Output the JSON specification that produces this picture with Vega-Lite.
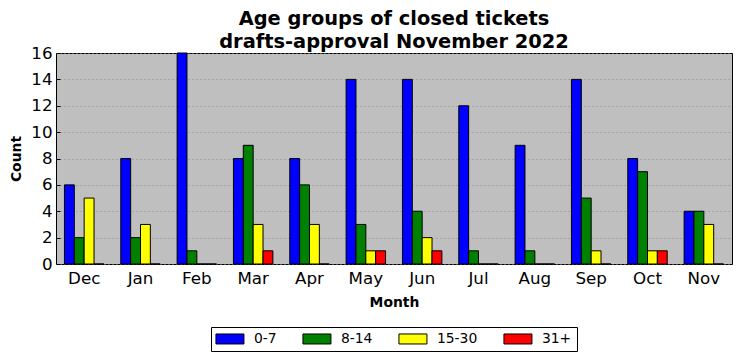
{
  "$schema": "https://vega.github.io/schema/vega-lite/v6.json",
  "width": 676,
  "height": 211,
  "autosize": {"type": "none"},
  "padding": {"left": 56, "top": 53, "right": 9, "bottom": 97},
  "background": "white",
  "config": {
    "font": "DejaVu Sans",
    "view": {"fill": "#bfbfbf", "stroke": "black", "strokeWidth": 1}
  },
  "title": {
    "text": ["Age groups of closed tickets", "drafts-approval November 2022"],
    "fontSize": 19.4,
    "fontWeight": "bold",
    "color": "black",
    "offset": -7,
    "lineHeight": 23,
    "anchor": "middle",
    "font": "DejaVu Sans"
  },
  "data": {
    "values": [
      {"month": "Dec", "group": "0-7", "count": 6}, {"month": "Dec", "group": "8-14", "count": 2}, {"month": "Dec", "group": "15-30", "count": 5}, {"month": "Dec", "group": "31+", "count": 0},
      {"month": "Jan", "group": "0-7", "count": 8}, {"month": "Jan", "group": "8-14", "count": 2}, {"month": "Jan", "group": "15-30", "count": 3}, {"month": "Jan", "group": "31+", "count": 0},
      {"month": "Feb", "group": "0-7", "count": 16}, {"month": "Feb", "group": "8-14", "count": 1}, {"month": "Feb", "group": "15-30", "count": 0}, {"month": "Feb", "group": "31+", "count": 0},
      {"month": "Mar", "group": "0-7", "count": 8}, {"month": "Mar", "group": "8-14", "count": 9}, {"month": "Mar", "group": "15-30", "count": 3}, {"month": "Mar", "group": "31+", "count": 1},
      {"month": "Apr", "group": "0-7", "count": 8}, {"month": "Apr", "group": "8-14", "count": 6}, {"month": "Apr", "group": "15-30", "count": 3}, {"month": "Apr", "group": "31+", "count": 0},
      {"month": "May", "group": "0-7", "count": 14}, {"month": "May", "group": "8-14", "count": 3}, {"month": "May", "group": "15-30", "count": 1}, {"month": "May", "group": "31+", "count": 1},
      {"month": "Jun", "group": "0-7", "count": 14}, {"month": "Jun", "group": "8-14", "count": 4}, {"month": "Jun", "group": "15-30", "count": 2}, {"month": "Jun", "group": "31+", "count": 1},
      {"month": "Jul", "group": "0-7", "count": 12}, {"month": "Jul", "group": "8-14", "count": 1}, {"month": "Jul", "group": "15-30", "count": 0}, {"month": "Jul", "group": "31+", "count": 0},
      {"month": "Aug", "group": "0-7", "count": 9}, {"month": "Aug", "group": "8-14", "count": 1}, {"month": "Aug", "group": "15-30", "count": 0}, {"month": "Aug", "group": "31+", "count": 0},
      {"month": "Sep", "group": "0-7", "count": 14}, {"month": "Sep", "group": "8-14", "count": 5}, {"month": "Sep", "group": "15-30", "count": 1}, {"month": "Sep", "group": "31+", "count": 0},
      {"month": "Oct", "group": "0-7", "count": 8}, {"month": "Oct", "group": "8-14", "count": 7}, {"month": "Oct", "group": "15-30", "count": 1}, {"month": "Oct", "group": "31+", "count": 1},
      {"month": "Nov", "group": "0-7", "count": 4}, {"month": "Nov", "group": "8-14", "count": 4}, {"month": "Nov", "group": "15-30", "count": 3}, {"month": "Nov", "group": "31+", "count": 0}
    ]
  },
  "mark": {"type": "bar", "stroke": "black", "strokeWidth": 1},
  "encoding": {
    "x": {
      "field": "month",
      "type": "nominal",
      "sort": ["Dec", "Jan", "Feb", "Mar", "Apr", "May", "Jun", "Jul", "Aug", "Sep", "Oct", "Nov"],
      "scale": {"paddingInner": 0.3, "paddingOuter": 0.15},
      "axis": {
        "title": "Month",
        "titleFontSize": 13.9,
        "titleFontWeight": "bold",
        "titleColor": "black",
        "titlePadding": 9,
        "labelAngle": 0,
        "labelFontSize": 16.7,
        "labelColor": "black",
        "labelPadding": 10,
        "tickSize": -4,
        "tickColor": "black",
        "domain": false,
        "grid": false
      }
    },
    "xOffset": {"field": "group", "type": "nominal", "sort": ["0-7", "8-14", "15-30", "31+"]},
    "y": {
      "field": "count",
      "type": "quantitative",
      "scale": {"domain": [0, 16], "nice": false},
      "axis": {
        "title": "Count",
        "titleFontSize": 13.9,
        "titleFontWeight": "bold",
        "titleColor": "black",
        "titlePadding": 7,
        "values": [0, 2, 4, 6, 8, 10, 12, 14, 16],
        "labelFontSize": 16.7,
        "labelColor": "black",
        "labelPadding": 8,
        "tickSize": -4,
        "tickColor": "black",
        "domain": false,
        "grid": true,
        "gridColor": "#8a8a8a",
        "gridDash": [1, 3],
        "gridWidth": 1
      }
    },
    "color": {
      "field": "group",
      "type": "nominal",
      "sort": ["0-7", "8-14", "15-30", "31+"],
      "scale": {"domain": ["0-7", "8-14", "15-30", "31+"], "range": ["#0000ff", "#008000", "#ffff00", "#ff0000"]},
      "legend": {
        "title": null,
        "orient": "none",
        "legendX": 155,
        "legendY": 274,
        "direction": "horizontal",
        "symbolType": "M-2.8,-1H2.8V1H-2.8Z",
        "symbolSize": 100,
        "symbolOffset": 7,
        "symbolStrokeColor": "black",
        "symbolStrokeWidth": 1,
        "symbolOpacity": 1,
        "labelFontSize": 13.9,
        "labelColor": "black",
        "labelOffset": 17,
        "columnPadding": 23,
        "padding": 5,
        "strokeColor": "black",
        "fillColor": "white"
      }
    }
  }
}
